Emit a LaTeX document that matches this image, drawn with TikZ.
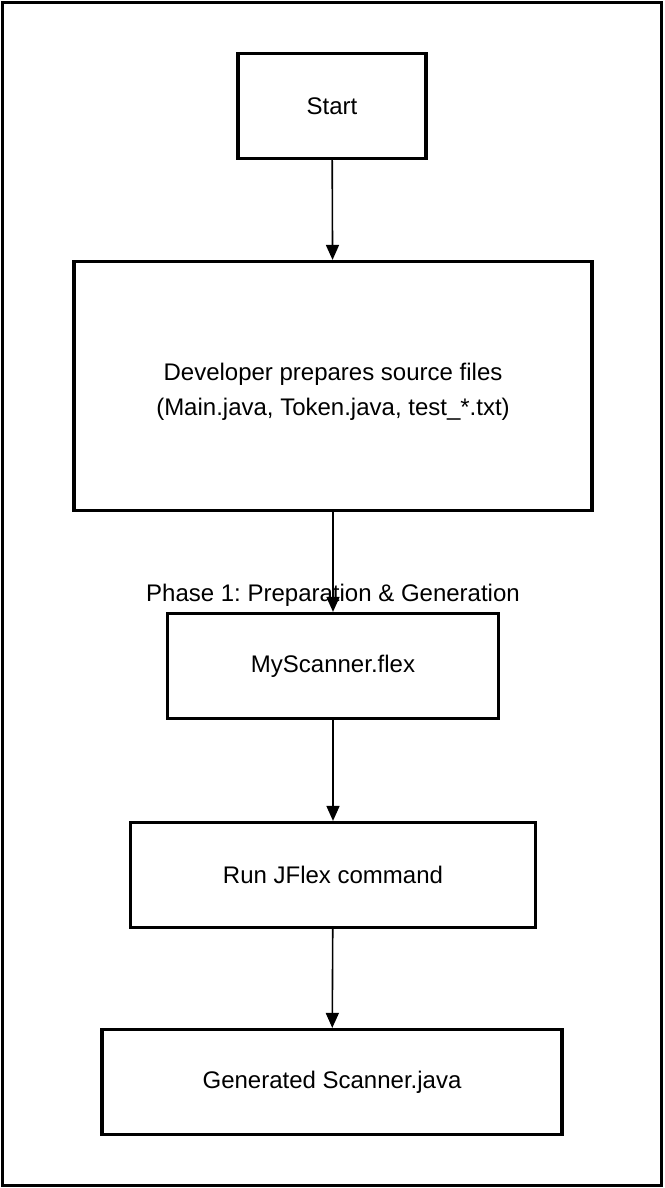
\documentclass[tikz,border=0pt]{standalone}
\usepackage{fontspec}
\setmainfont{Liberation Sans}
\usetikzlibrary{positioning,arrows.meta}
\frenchspacing

\begin{document}
\begin{tikzpicture}[x=1pt, y=-1pt, every node/.style={font=\fontsize{24}{35}\selectfont}]
% one unit is one pixel of the page, y runs downwards

\tikzstyle{arrow} 	= [line width = 1.6pt, color = black, -{Triangle[length=15pt, width=13pt]}] % standard arrow
\tikzstyle{block} 	= [draw, rectangle, line width = 3.2pt, minimum height = 105pt, align = center] % define block

% page size and outer frame
\useasboundingbox (0,0) rectangle (664,1188);
\draw[line width=3pt](2.5,2.5) rectangle (661.5,1185.5);

% start block at the top
\node(start)[block, minimum width=188pt] at (332,106){Start};

% blocks below one another
\node(dev)[block, below of=start, node distance=280pt, minimum width=518pt, minimum height=249pt, xshift=1pt]{\rule{0pt}{29pt}Developer prepares source files\\(Main.java, Token.java, test\_*.txt)};
\node(flex)[block, below of=dev, node distance=280pt, minimum width=331pt]{MyScanner.flex};
\node(run)[block, below of=flex, node distance=209pt, minimum width=405pt]{Run JFlex command};
\node(gen)[block, below of=run, node distance=207pt, minimum width=460pt, xshift=-1pt]{Generated Scanner.java};

% group label
\node(phase)[above of=flex, node distance=71pt]{Phase 1: Preparation \& Generation};

% arrows
\draw[arrow](start)--(dev);
\draw[arrow](dev)--(flex);
\draw[arrow](flex)--(run);
\draw[arrow](run)--(gen);
\end{tikzpicture}
\end{document}
